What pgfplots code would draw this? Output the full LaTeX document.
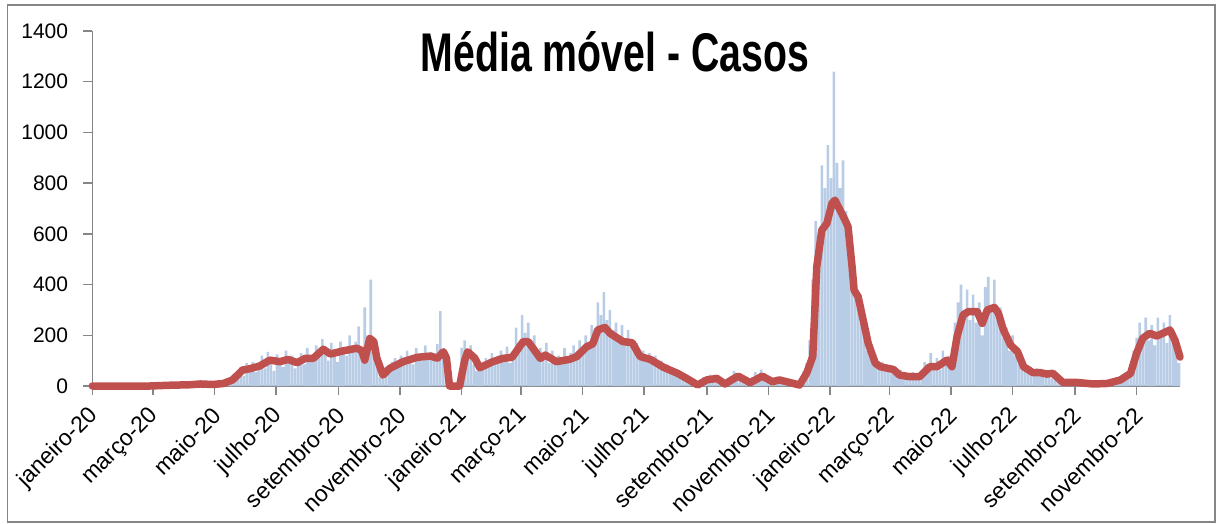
\documentclass[border=0pt]{standalone}
\usepackage{pgfplots}
\pgfplotsset{compat=1.18}
\usepackage{fontspec}
\setmainfont{Liberation Sans}
\newfontfamily\titlefont[FakeStretch=0.72]{Liberation Sans}
\definecolor{barblue}{RGB}{184,204,230}
\definecolor{mared}{RGB}{192,80,77}
\definecolor{axgray}{RGB}{134,134,134}
\begin{document}
\begin{tikzpicture}
\useasboundingbox (0,0) rectangle (1216pt,523pt);
\draw[axgray, line width=1.5pt] (7.5pt,0.8pt) rectangle (1215pt,518pt);
\begin{axis}[
  at={(92.3pt,137pt)}, anchor=south west,
  scale only axis, width=1087.7pt, height=355pt,
  xmin=0, xmax=1078, ymin=0, ymax=1400,
  clip=false,
  axis x line=bottom, axis y line=left,
  axis line style={-, axgray, line width=1.5pt},
  tick style={axgray, line width=1.5pt},
  tick align=outside, major tick length=9pt,
  ytick={0,200,400,600,800,1000,1200,1400},
  xtick={0,60,121,182,244,305,366,425,486,547,609,670,731,790,851,912,974,1035},
  xticklabels={janeiro-20,março-20,maio-20,julho-20,setembro-20,novembro-20,janeiro-21,março-21,maio-21,julho-21,setembro-21,novembro-21,janeiro-22,março-22,maio-22,julho-22,setembro-22,novembro-22},
  /pgf/number format/assume math mode=true,
  /pgf/number format/1000 sep={},
  ticklabel style={font=\fontsize{21pt}{25pt}\selectfont, inner sep=0pt},
  xticklabel style={font=\fontsize{23pt}{27pt}\selectfont, rotate=45, anchor=east, xshift=3pt},
  xticklabel shift=19pt,
  yticklabel shift=15pt,
]
\addplot[ybar, bar width=2.6, fill=barblue, draw=none] coordinates {
(63,1)(66,3)(69,2)(72,5)(75,4)(78,2)(81,6)(84,3)(87,7)(90,5)(93,4)(96,8)(99,6)(102,3)(105,9)(108,7)(111,5)(114,10)(117,6)(120,4)(123,8)(126,12)(129,9)
(132,15)(135,22)(138,30)(141,18)(144,55)(147,75)(150,40)(153,90)(156,65)(159,95)(162,55)(165,85)(168,120)(171,70)(174,135)(177,100)(180,60)(183,125)(186,110)(189,75)(192,140)(195,95)(198,120)
(201,70)(204,105)(207,130)(210,85)(213,150)(216,115)(219,95)(222,160)(225,120)(228,185)(231,130)(234,100)(237,170)(240,125)(243,95)(246,175)(249,140)(252,120)(255,200)(258,150)(261,175)(264,235)(267,130)
(270,310)(273,200)(276,420)(279,170)(282,80)(285,35)(288,60)(291,75)(294,50)(297,95)(300,110)(303,80)(306,120)(309,95)(312,140)(315,105)(318,85)(321,150)(324,120)(327,100)(330,160)(333,115)(336,135)
(339,105)(342,165)(345,295)(348,140)(351,30)(354,0)(357,0)(360,0)(363,5)(366,150)(369,180)(372,120)(375,160)(378,85)(381,60)(384,95)(387,70)(390,110)(393,85)(396,130)(399,95)(402,120)(405,140)
(408,100)(411,155)(414,90)(417,130)(420,230)(423,160)(426,280)(429,210)(432,250)(435,160)(438,200)(441,130)(444,150)(447,110)(450,170)(453,90)(456,140)(459,85)(462,120)(465,95)(468,150)(471,110)(474,130)
(477,160)(480,105)(483,180)(486,140)(489,200)(492,150)(495,240)(498,190)(501,330)(504,280)(507,370)(510,260)(513,300)(516,220)(519,250)(522,190)(525,240)(528,165)(531,220)(534,185)(537,150)(540,170)
(543,120)(546,140)(549,100)(552,130)(555,95)(558,120)(561,80)(564,100)(567,70)(570,85)(573,55)(576,70)(579,45)(582,60)(585,35)(588,45)(591,25)(594,30)(597,10)(600,5)(603,20)(606,35)(609,15)
(612,45)(615,25)(618,40)(621,20)(624,10)(627,5)(630,25)(633,40)(636,60)(639,30)(642,45)(645,15)(648,10)(651,20)(654,35)(657,55)(660,30)(663,65)(666,40)(669,20)(672,25)(675,15)(678,35)
(681,30)(684,20)(687,15)(690,10)(693,5)(696,8)(699,10)(702,15)(705,60)(708,90)(711,180)(714,420)(717,650)(720,560)(723,870)(726,780)(729,950)(732,820)(735,1240)(738,880)(741,780)(744,890)(747,690)
(750,600)(753,380)(756,370)(759,310)(762,250)(765,210)(768,140)(771,120)(774,90)(777,105)(780,70)(783,95)(786,60)(789,80)(792,50)(795,75)(798,40)(801,65)(804,35)(807,50)(810,30)(813,55)(816,25)
(819,45)(822,60)(825,95)(828,70)(831,130)(834,85)(837,110)(840,65)(843,140)(846,90)(849,120)(852,70)(855,250)(858,330)(861,400)(864,300)(867,380)(870,260)(873,360)(876,250)(879,330)(882,200)(885,390)
(888,430)(891,300)(894,420)(897,260)(900,310)(903,190)(906,230)(909,140)(912,200)(915,120)(918,150)(921,95)(924,80)(927,60)(930,75)(933,45)(936,70)(939,40)(942,65)(945,35)(948,55)(951,30)(954,45)
(957,20)(960,15)(963,25)(966,10)(969,20)(972,8)(975,15)(978,12)(981,18)(984,10)(987,15)(990,8)(993,12)(996,5)(999,10)(1002,8)(1005,14)(1008,10)(1011,18)(1014,15)(1017,25)(1020,20)(1023,35)
(1026,45)(1029,80)(1032,140)(1035,190)(1038,250)(1041,200)(1044,270)(1047,180)(1050,240)(1053,160)(1056,270)(1059,190)(1062,250)(1065,170)(1068,280)(1071,210)(1074,150)(1077,90)
};
\addplot[mared, line width=7.5pt, line join=round, line cap=round] coordinates {
(0,0)(57,0)(77,3)(97,5)(107,8)(120,6)(130,10)(139,24)(149,63)(156,68)(166,79)(176,102)(186,96)(194,105)(203,92)(211,109)(219,109)(229,145)(236,126)(248,138)(262,149)(267,140)(270,102)(275,188)(279,175)(282,110)(288,43)(295,70)(308,96)(322,113)(335,118)(342,110)(348,135)(351,110)(354,0)(364,0)(369,100)(372,135)(379,110)(384,72)(397,96)(407,109)(416,113)(427,175)(432,175)(444,109)(449,122)(460,96)(473,105)(480,116)(490,155)(496,166)(501,221)(508,231)(513,208)(526,175)(535,171)(543,116)(553,105)(566,74)(580,50)(589,30)(600,4)(609,24)(619,30)(627,8)(640,39)(652,13)(664,39)(674,17)(681,24)(701,4)(708,51)(714,116)(718,470)(723,615)(728,641)(733,720)(736,733)(741,694)(746,654)(749,628)(753,470)(755,378)(759,352)(764,260)(769,168)(776,90)(781,76)(794,65)(800,43)(810,37)(820,37)(830,76)(837,76)(847,102)(852,76)(857,194)(863,280)(868,293)(877,293)(882,247)(887,300)(894,310)(898,287)(903,221)(910,162)(917,135)(923,76)(932,53)(939,53)(946,47)(952,50)(962,14)(976,14)(992,8)(1006,10)(1019,24)(1029,50)(1035,129)(1041,188)(1048,208)(1055,197)(1061,208)(1068,221)(1073,181)(1078,114)
};
\end{axis}
\node[anchor=base, font=\titlefont\bfseries\fontsize{54.5pt}{60pt}\selectfont, inner sep=0pt] at (615pt,451pt) {Média móvel - Casos};
\end{tikzpicture}
\end{document}
